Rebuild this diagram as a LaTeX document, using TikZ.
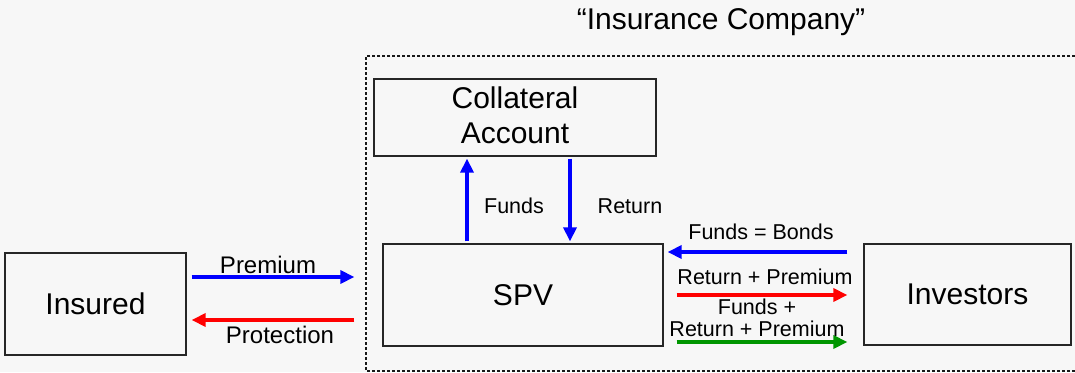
\documentclass[tikz,border=0pt]{standalone}
\usepackage{fontspec}
\setmainfont{Liberation Sans}
\usetikzlibrary{arrows.meta}
\definecolor{bg}{HTML}{F7F7F7}
\definecolor{flowgreen}{RGB}{0,150,0}
\tikzset{
  box/.style={draw=black!85, line width=1.3pt, fill=bg, inner sep=0pt},
  bigtext/.style={font=\fontsize{30}{35}\selectfont, align=center},
  lbl/.style={font=\fontsize{21.5}{22}\selectfont, align=center, inner sep=0pt},
  lbllarge/.style={font=\fontsize{24}{26}\selectfont, inner sep=0pt},
  flow/.style={line width=4pt, -{Triangle[length=14pt,width=13pt]}},
}
\begin{document}
\begin{tikzpicture}[x=1pt,y=-1pt]
  % canvas
  \fill[bg] (0,0) rectangle (1075,372);
  \useasboundingbox (0,0) rectangle (1075,372);

  % company boundary
  \begin{scope}
    \clip (0,0) rectangle (1075,372);
    \draw[black!90, line width=1.2pt, dash pattern=on 3pt off 2pt]
      (1090,56) -- (366,56) -- (366,371) -- (1090,371);
  \end{scope}
  \node[font=\fontsize{30}{34}\selectfont] (company) at (721,22) {“Insurance Company”};

  % parties
  \node[box, minimum width=181pt, minimum height=102pt, bigtext] (insured) at (95.5,304) {Insured};
  \node[box, minimum width=282pt, minimum height=77pt,
        label={[bigtext, yshift=2pt]center:{Collateral\\Account}}] (collateral) at (515,117.5) {};
  \node[box, minimum width=280pt, minimum height=102pt, bigtext] (spv) at (523,295) {SPV};
  \node[box, minimum width=207pt, minimum height=101pt, bigtext] (investors) at (967.5,294.5) {Investors};

  % rows and columns of the flows
  \coordinate (rowPremium) at (0,277);
  \coordinate (rowProtection) at (0,320);
  \coordinate (rowBonds) at (0,252);
  \coordinate (rowReturn) at (0,295);
  \coordinate (rowTotal) at (0,342);
  \coordinate (colFunds) at (467,0);
  \coordinate (colReturn) at (570,0);

  % insured <-> SPV
  \draw[flow, blue, shorten <=5pt, shorten >=28pt] (insured.east |- rowPremium) -- (spv.west |- rowPremium);
  \draw[flow, red, shorten <=28pt, shorten >=5pt] (spv.west |- rowProtection) -- (insured.east |- rowProtection);
  \node[lbllarge] (lPremium) at (268,265) {Premium};
  \node[lbllarge] (lProtection) at (280,335) {Protection};

  % SPV <-> collateral account
  \draw[flow, blue, shorten <=2pt, shorten >=2pt] (spv.north -| colFunds) -- (collateral.south -| colFunds);
  \draw[flow, blue, shorten <=2pt, shorten >=2pt] (collateral.south -| colReturn) -- (spv.north -| colReturn);
  \node[lbl] (lFunds) at (514,206) {Funds};
  \node[lbl] (lReturn) at (630,206) {Return};

  % SPV <-> investors
  \draw[flow, blue, shorten <=16pt, shorten >=4pt] (investors.west |- rowBonds) -- (spv.east |- rowBonds);
  \draw[flow, red, shorten <=13pt, shorten >=16pt] (spv.east |- rowReturn) -- (investors.west |- rowReturn);
  \draw[flow, flowgreen, shorten <=13pt, shorten >=16pt] (spv.east |- rowTotal) -- (investors.west |- rowTotal);
  \node[lbl] (lBonds) at (761,232) {Funds = Bonds};
  \node[lbl] (lRetPrem) at (765,277) {Return + Premium};
  \node[lbl] (lTotal) at (757,318) {Funds +\\Return + Premium};
\end{tikzpicture}
\end{document}
